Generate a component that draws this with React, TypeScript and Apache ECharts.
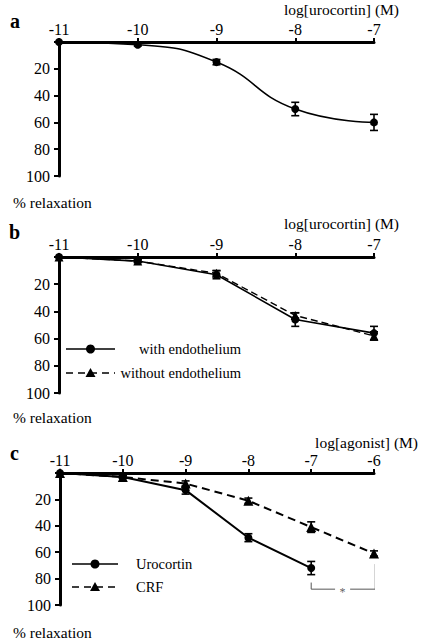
import React, { useEffect, useRef } from "react";
import * as echarts from "echarts";

// Panel a: urocortin
const xA = [-11, -10, -9, -8, -7];
const aMean = [0, 2, 15, 50, 60];
const aSem = [0, 1, 2, 5, 6];

// Panel b: with / without endothelium
const xB = [-11, -10, -9, -8, -7];
const bWith = [0, 3, 13, 46, 56];
const bWithSem = [0, 1, 3, 5, 5];
const bWithout = [0, 3, 12, 43, 58];
const bWithoutSem = [0, 1, 2, 2, 3];

// Panel c: urocortin vs CRF
const xCUro = [-11, -10, -9, -8, -7];
const cUro = [0, 3, 13, 49, 72];
const cUroSem = [0, 1, 3, 3, 5];
const xCCrf = [-11, -10, -9, -8, -7, -6];
const cCrf = [0, 3, 8, 21, 41, 61];
const cCrfSem = [0, 1, 2, 2, 4, 2];

// significance bracket (data units) and tick labels
const bracketLeft = [[-7, 83], [-7, 88], [-6.62, 88]];
const bracketRight = [[-6.38, 88], [-5.98, 88], [-5.98, 69]];
const yTicks = [0, 20, 40, 60, 80, 100];
const xTitles = ["log[urocortin] (M)", "log[urocortin] (M)", "log[agonist] (M)"];
const yTitle = "% relaxation";
const panelLabels = ["a", "b", "c"];
const legendB = ["with endothelium", "without endothelium"];
const legendC = ["Urocortin", "CRF"];

const FONT = "Liberation Serif";

const pairs = (xs: number[], ys: number[]) => xs.map((x, i) => [x, ys[i]]);
const errs = (xs: number[], ys: number[], s: number[]) =>
  xs.map((x, i) => [x, ys[i] - s[i], ys[i] + s[i]]);

function errSeries(data: number[][], idx: number) {
  return {
    type: "custom",
    xAxisIndex: idx,
    yAxisIndex: idx,
    z: 3,
    data,
    encode: { x: 0, y: [1, 2] },
    renderItem: (params: any, api: any) => {
      const x = api.value(0);
      const p1 = api.coord([x, api.value(1)]);
      const p2 = api.coord([x, api.value(2)]);
      const st = { stroke: "#000", lineWidth: 1.6 };
      return {
        type: "group",
        children: [
          { type: "line", shape: { x1: p1[0], y1: p1[1], x2: p2[0], y2: p2[1] }, style: st },
          { type: "line", shape: { x1: p1[0] - 4, y1: p1[1], x2: p1[0] + 4, y2: p1[1] }, style: st },
          { type: "line", shape: { x1: p2[0] - 4, y1: p2[1], x2: p2[0] + 4, y2: p2[1] }, style: st },
        ],
      };
    },
  };
}

function xAxisDef(idx: number, max: number) {
  return {
    type: "value",
    gridIndex: idx,
    position: "top",
    min: -11,
    max,
    interval: 1,
    axisLine: { onZero: false, lineStyle: { color: "#000", width: 3 } },
    axisTick: { show: true, length: 4, lineStyle: { color: "#000", width: 2 } },
    axisLabel: { color: "#000", fontFamily: FONT, fontSize: 16, margin: 5 },
    splitLine: { show: false },
  };
}

function yAxisDef(idx: number) {
  return {
    type: "value",
    gridIndex: idx,
    inverse: true,
    min: 0,
    max: 100,
    interval: 20,
    axisLine: { onZero: false, lineStyle: { color: "#000", width: 3 } },
    axisTick: { show: true, length: 5, lineStyle: { color: "#000", width: 2 } },
    axisLabel: {
      color: "#000",
      fontFamily: FONT,
      fontSize: 16,
      margin: 9,
      formatter: (v: number) => (v === yTicks[0] ? "" : String(v)),
    },
    splitLine: { show: false },
  };
}

function txt(text: string, x: number, y: number, size: number, align = "left", bold = false) {
  return {
    type: "text",
    x,
    y,
    z: 10,
    style: {
      text,
      fill: "#000",
      fontFamily: FONT,
      fontSize: size,
      fontWeight: bold ? "bold" : "normal",
      textAlign: align,
      textVerticalAlign: "middle",
    },
  };
}

function legendRow(x1: number, x2: number, y: number, dashed: boolean, tri: boolean) {
  const cx = (x1 + x2) / 2;
  const items: any[] = [
    {
      type: "line",
      z: 10,
      shape: { x1, y1: y, x2, y2: y },
      style: { stroke: "#000", lineWidth: 1.6, lineDash: dashed ? [7, 5] : null },
    },
  ];
  if (tri) {
    items.push({
      type: "polygon",
      z: 11,
      shape: { points: [[cx, y - 5], [cx - 5, y + 4], [cx + 5, y + 4]] },
      style: { fill: "#000" },
    });
  } else {
    items.push({ type: "circle", z: 11, shape: { cx, cy: y, r: 4.5 }, style: { fill: "#000" } });
  }
  return items;
}

export default function App() {
  const ref = useRef<HTMLDivElement>(null);
  useEffect(() => {
    if (!ref.current) return;
    const chart = echarts.init(ref.current, null, { renderer: "svg" });
    const lineBase = { type: "line", symbolSize: 8, z: 4, lineStyle: { color: "#000", width: 1.6 }, itemStyle: { color: "#000" } };
    chart.setOption({
      animation: false,
      backgroundColor: "#fff",
      textStyle: { fontFamily: FONT },
      grid: [
        { left: 59, width: 315, top: 42, height: 134 },
        { left: 59, width: 315, top: 257, height: 136 },
        { left: 60, width: 314, top: 473, height: 132 },
      ],
      xAxis: [xAxisDef(0, -7), xAxisDef(1, -7), xAxisDef(2, -6)],
      yAxis: [yAxisDef(0), yAxisDef(1), yAxisDef(2)],
      series: [
        { ...lineBase, xAxisIndex: 0, yAxisIndex: 0, symbol: "circle", smooth: 0.5, data: pairs(xA, aMean) },
        errSeries(errs(xA, aMean, aSem), 0),
        { ...lineBase, xAxisIndex: 1, yAxisIndex: 1, symbol: "circle", data: pairs(xB, bWith) },
        { ...lineBase, xAxisIndex: 1, yAxisIndex: 1, symbol: "triangle", symbolSize: 9, lineStyle: { color: "#000", width: 1.4, type: [7, 4] }, data: pairs(xB, bWithout) },
        errSeries(errs(xB, bWith, bWithSem), 1),
        errSeries(errs(xB, bWithout, bWithoutSem), 1),
        { ...lineBase, xAxisIndex: 2, yAxisIndex: 2, symbol: "circle", lineStyle: { color: "#000", width: 2 }, data: pairs(xCUro, cUro) },
        { ...lineBase, xAxisIndex: 2, yAxisIndex: 2, symbol: "triangle", symbolSize: 10, lineStyle: { color: "#000", width: 2, type: [8, 5] }, data: pairs(xCCrf, cCrf) },
        errSeries(errs(xCUro, cUro, cUroSem), 2),
        errSeries(errs(xCCrf, cCrf, cCrfSem), 2),
        { type: "line", xAxisIndex: 2, yAxisIndex: 2, symbol: "none", lineStyle: { color: "#555", width: 1 }, data: bracketLeft },
        { type: "line", xAxisIndex: 2, yAxisIndex: 2, symbol: "none", lineStyle: { color: "#555", width: 1 }, data: bracketRight },
        {
          type: "scatter",
          xAxisIndex: 2,
          yAxisIndex: 2,
          symbolSize: 0,
          data: [[-6.5, 88]],
          label: { show: true, formatter: "*", position: "inside", color: "#333", fontFamily: FONT, fontSize: 12, offset: [0, 3] },
        },
      ],
      graphic: [
        txt(panelLabels[0], 10, 21, 20, "left", true),
        txt(panelLabels[1], 9, 232, 20, "left", true),
        txt(panelLabels[2], 10, 453, 20, "left", true),
        txt(xTitles[0], 399, 9, 15.5, "right"),
        txt(xTitles[1], 399, 223, 15.5, "right"),
        txt(xTitles[2], 418, 442, 15.5, "right"),
        txt(yTitle, 13, 202, 15.5),
        txt(yTitle, 13, 417, 15.5),
        txt(yTitle, 13, 632, 15.5),
        ...legendRow(66, 115, 349, false, false),
        ...legendRow(66, 115, 373, true, true),
        txt(legendB[0], 241, 349, 14.5, "right"),
        txt(legendB[1], 241, 373, 14.5, "right"),
        ...legendRow(72, 118, 564, false, false),
        ...legendRow(72, 118, 587, true, true),
        txt(legendC[0], 136, 564, 14.5),
        txt(legendC[1], 136, 587, 14.5),
      ],
    });
    return () => chart.dispose();
  }, []);
  return (
    <div
      ref={ref}
      style={{ position: "fixed", left: 0, top: 0, width: 421, height: 640, background: "#fff" }}
    />
  );
}
